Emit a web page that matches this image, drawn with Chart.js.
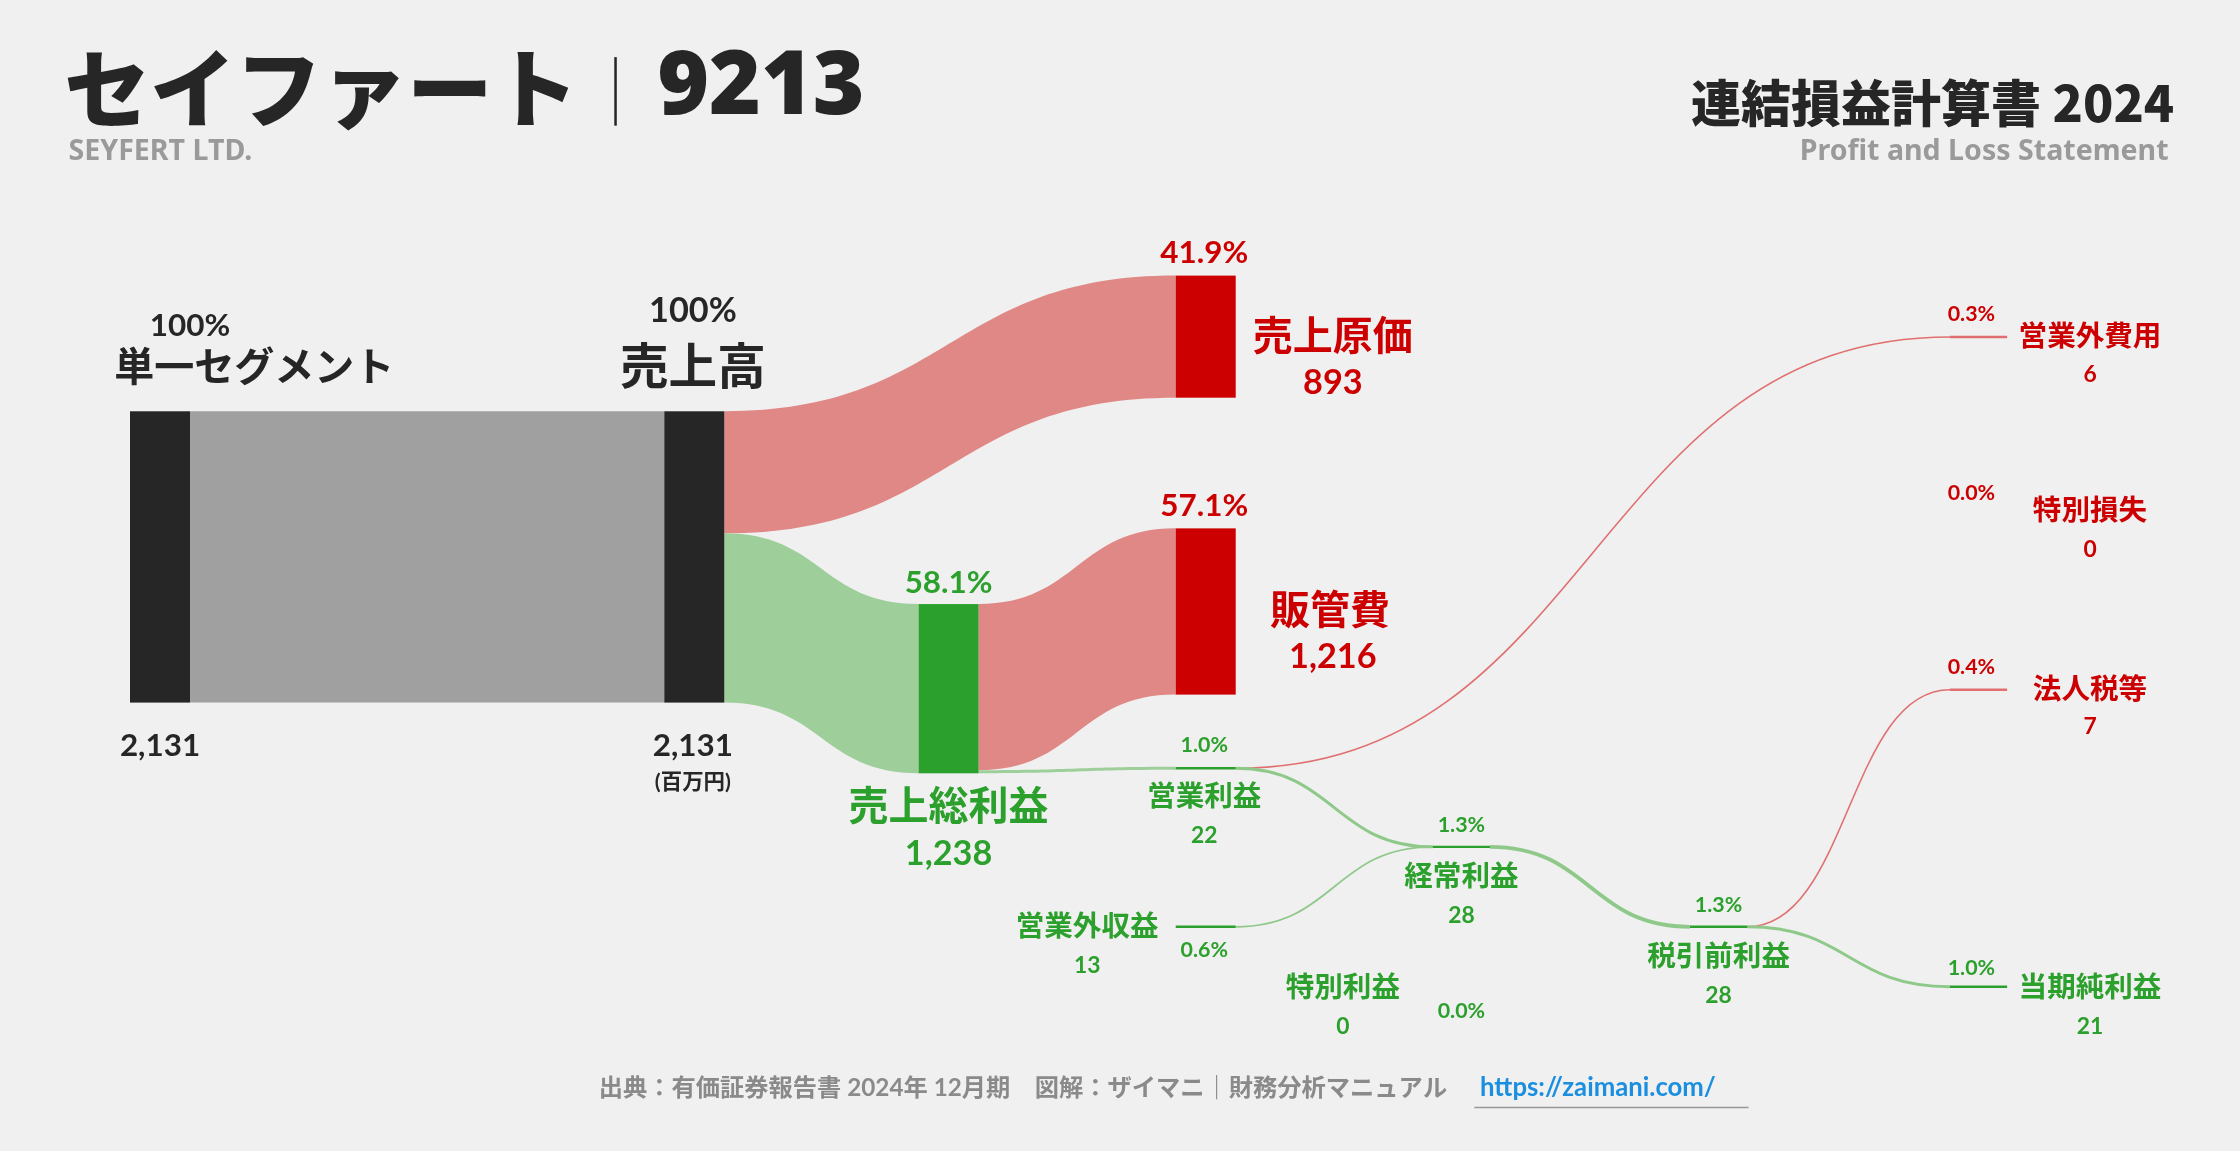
<!DOCTYPE html>
<html><head><meta charset="utf-8">
<script src="https://cdn.jsdelivr.net/npm/chart.js@4.4.1/dist/chart.umd.min.js"></script>
<style>html,body{margin:0;padding:0;background:#f0f0f0;overflow:hidden}#wrap{width:2240px;height:1151px}</style>
</head><body><div id="wrap"><canvas id="c"></canvas></div>
<script>
const nodeNames = ["単一セグメント","売上高","売上原価","売上総利益","販管費","営業利益","営業外収益","特別利益","経常利益","営業外費用","税引前利益","特別損失","法人税等","当期純利益"];
const nodeValues = [2131,2131,893,1238,1216,22,13,0,28,6,28,0,7,21];
const nodePercents = ["100%","100%","41.9%","58.1%","57.1%","1.0%","0.6%","0.0%","1.3%","0.3%","1.3%","0.0%","0.4%","1.0%"];
const valueLabels = ["2,131","2,131","893","1,238","1,216","22","13","0","28","6","28","0","7","21"];

const S = 2240/1568;
const K = 204/2131; // ref px per million yen
const DARK="#262626", RED="#cc0000", GREEN="#2ca02c", GRAYF="#a0a0a0", REDF="#e08885", GREENF="#9ecf9a";
const F = "'Lato','Noto Sans CJK JP',sans-serif";
const FH = "'Noto Sans','Noto Sans CJK JP',sans-serif";

const sankeyPlugin = {
  id:'sankey',
  beforeDraw(chart){const c=chart.ctx;c.save();c.fillStyle="#f0f0f0";c.fillRect(0,0,chart.width,chart.height);c.restore();},
  afterDraw(chart){
    const ctx=chart.ctx, xs=chart.scales.x, ys=chart.scales.y;
    const X=v=>xs.getPixelForValue(v), Y=v=>ys.getPixelForValue(v);
    const H=v=>v*K;
    const v=nodeValues;
    function rect(x0,x1,yt,val,col){ctx.fillStyle=col;ctx.fillRect(X(x0),Y(yt),X(x1)-X(x0),Y(yt+H(val))-Y(yt));}
    function band(x0,a0,x1,a1,val,col){
      const h=H(val), xm=(X(x0)+X(x1))/2;
      ctx.beginPath();ctx.moveTo(X(x0),Y(a0));
      ctx.bezierCurveTo(xm,Y(a0),xm,Y(a1),X(x1),Y(a1));
      ctx.lineTo(X(x1),Y(a1+h));
      ctx.bezierCurveTo(xm,Y(a1+h),xm,Y(a0+h),X(x0),Y(a0+h));
      ctx.closePath();ctx.fillStyle=col;ctx.fill();
    }
    function line(x0,y0,x1,y1,val,col){
      const w=Math.max(1.6,Y(H(val))-Y(0)), xm=(X(x0)+X(x1))/2;
      ctx.beginPath();ctx.moveTo(X(x0),Y(y0));ctx.bezierCurveTo(xm,Y(y0),xm,Y(y1),X(x1),Y(y1));
      ctx.strokeStyle=col;ctx.lineWidth=w;ctx.stroke();
    }
    function hbar(x0,x1,y,col){ctx.beginPath();ctx.moveTo(X(x0),Y(y));ctx.lineTo(X(x1),Y(y));ctx.strokeStyle=col;ctx.lineWidth=2.4;ctx.stroke();}
    band(133,288,465,288,v[0],GRAYF);
    band(507,288,823,193,v[2],REDF);
    band(507,288+H(v[2]),643,423,v[3],GREENF);
    band(685,423,823,370,v[4],REDF);
    band(685,423+H(v[4]),823,537,v[5],GREENF);
    line(865,538,1365,236,v[9],"#e07070");
    line(865,538,1003,593,v[5],"#8fc98a");
    line(865,649,1003,593,v[6],"#8fc98a");
    line(1043,593,1183,649,v[8],"#8fc98a");
    line(1223,649,1365,483,v[12],"#e07070");
    line(1223,649,1365,691,v[13],"#8fc98a");
    rect(91,133,288,v[0],DARK);
    rect(465,507,288,v[1],DARK);
    rect(823,865,193,v[2],RED);
    rect(643,685,423,v[3],GREEN);
    rect(823,865,370,v[4],RED);
    hbar(823,865,538,GREEN);hbar(823,865,649,GREEN);hbar(1003,1043,593,GREEN);
    hbar(1183,1223,649,GREEN);hbar(1365,1405,236,"#e07070");hbar(1365,1405,483,"#e07070");hbar(1365,1405,691,GREEN);
    function T(s,x,y,size,col,align,font,w){ctx.font=`${w||'bold'} ${size*S}px ${font||F}`;ctx.fillStyle=col;ctx.textAlign=align||"center";ctx.textBaseline="middle";ctx.fillText(s,X(x),Y(y));}
    T(nodePercents[0],133,228,22,DARK);T(nodeNames[0],178,258,28,DARK);T(valueLabels[0],112,522,22,DARK);
    T(nodePercents[1],485,218,24,DARK);T(nodeNames[1],485,258,34,DARK);T(valueLabels[1],485,522,22,DARK);T("(百万円)",485,548,15,DARK);
    T(nodePercents[2],843,177,22,RED);T(nodeNames[2],933,236,28,RED);T(valueLabels[2],933,268,24,RED);
    T(nodePercents[4],843,354,22,RED);T(nodeNames[4],931,428,28,RED);T(valueLabels[4],933,460,24,RED);
    T(nodePercents[3],664,408,22,GREEN);T(nodeNames[3],664,565,28,GREEN);T(valueLabels[3],664,598,24,GREEN);
    T(nodePercents[5],843,522,15,GREEN);T(nodeNames[5],843,558,20,GREEN);T(valueLabels[5],843,585,16,GREEN);
    T(nodePercents[9],1380,220,15,RED);T(nodeNames[9],1463,236,20,RED);T(valueLabels[9],1463,262,16,RED);
    T(nodePercents[11],1380,345,15,RED);T(nodeNames[11],1463,358,20,RED);T(valueLabels[11],1463,385,16,RED);
    T(nodePercents[12],1380,467,15,RED);T(nodeNames[12],1463,483,20,RED);T(valueLabels[12],1463,509,16,RED);
    T(nodePercents[8],1023,578,15,GREEN);T(nodeNames[8],1023,614,20,GREEN);T(valueLabels[8],1023,641,16,GREEN);
    T(nodeNames[6],761,649,20,GREEN);T(valueLabels[6],761,676,16,GREEN);T(nodePercents[6],843,665,15,GREEN);
    T(nodeNames[7],940,692,20,GREEN);T(valueLabels[7],940,719,16,GREEN);T(nodePercents[7],1023,708,15,GREEN);
    T(nodePercents[10],1203,634,15,GREEN);T(nodeNames[10],1203,670,20,GREEN);T(valueLabels[10],1203,697,16,GREEN);
    T(nodePercents[13],1380,678,15,GREEN);T(nodeNames[13],1463,692,20,GREEN);T(valueLabels[13],1463,719,16,GREEN);
    T("セイファート",45,62,60,"#262626","left","'Noto Sans CJK JP'","900");
    ctx.fillStyle="#262626";ctx.fillRect(X(430),Y(40),2.5,Y(88)-Y(40));
    T("9213",460,62,62,"#262626","left",FH,"900");
    T("SEYFERT LTD.",48,106,20,"#9a9a9a","left",FH,"bold");
    T("連結損益計算書 2024",1522,72,35,"#262626","right","'Noto Sans CJK JP'","900");
    T("Profit and Loss Statement",1518,106,20,"#9a9a9a","right",FH,"bold");
    T("出典：有価証券報告書 2024年 12月期　図解：ザイマニ｜財務分析マニュアル",1013,762,17,"#8a8a8a","right");
    T("https://zaimani.com/",1036,762,18,"#1a8fe0","left");
    ctx.fillStyle="#999";ctx.fillRect(X(1032),Y(775),X(1224)-X(1032),1.5);
  }
};

new Chart(document.getElementById('c'),{
  type:'scatter',
  data:{datasets:[{data:[],pointRadius:0}]},
  options:{responsive:true,maintainAspectRatio:false,animation:false,
    layout:{padding:0},
    plugins:{legend:{display:false},tooltip:{enabled:false}},
    scales:{x:{type:'linear',min:0,max:1568,display:false},y:{type:'linear',min:0,max:806,reverse:true,display:false}}},
  plugins:[sankeyPlugin]
});
</script></body></html>
